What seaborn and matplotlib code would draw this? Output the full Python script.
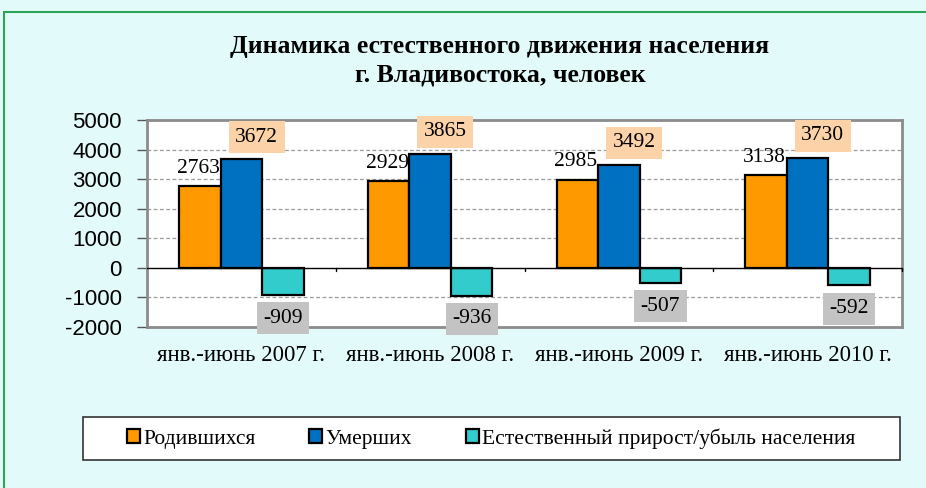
import matplotlib
matplotlib.use("Agg")
import matplotlib.pyplot as plt
import seaborn as sns
import pandas as pd
from matplotlib.patches import Rectangle

categories = ["янв.-июнь 2007 г.", "янв.-июнь 2008 г.", "янв.-июнь 2009 г.", "янв.-июнь 2010 г."]
series_names = ["Родившихся", "Умерших", "Естественный прирост/убыль населения"]
births = [2763, 2929, 2985, 3138]
deaths = [3672, 3865, 3492, 3730]
natural = [-909, -936, -507, -592]
yticks = [-2000, -1000, 0, 1000, 2000, 3000, 4000, 5000]
title = "Динамика естественного движения населения\nг. Владивостока, человек"

colors = ["#FF9900", "#0070C0", "#33CCCC"]

rows = []
for i, c in enumerate(categories):
    rows.append((c, series_names[0], births[i]))
    rows.append((c, series_names[1], deaths[i]))
    rows.append((c, series_names[2], natural[i]))
df = pd.DataFrame(rows, columns=["period", "series", "value"])

sns.set_style("white")
plt.rcParams.update({"text.color": "black", "xtick.color": "black", "ytick.color": "black",
                     "axes.labelcolor": "black"})
serif = ["Liberation Serif", "DejaVu Serif"]
sans = ["Liberation Sans", "DejaVu Sans"]

fig = plt.figure(figsize=(9.26, 4.88), dpi=100)
fig.patch.set_facecolor("#E3FAFA")
fig.patches.append(Rectangle((4 / 926, -0.01), 1.0, 1 - 12 / 488 + 0.01, transform=fig.transFigure,
                             fill=False, edgecolor="#2EA35A", linewidth=1.5))
# legend frame box
fig.patches.append(Rectangle((83 / 926, 1 - 460 / 488), (900 - 83) / 926, 43 / 488, transform=fig.transFigure,
                             facecolor="white", edgecolor="#333333", linewidth=1.2, zorder=1))

ax = fig.add_axes([147 / 926, 1 - 327 / 488, (902 - 147) / 926, (327 - 120) / 488])
sns.barplot(data=df, x="period", y="value", hue="series", palette=colors, order=categories,
            hue_order=series_names, width=0.66, edgecolor="black", linewidth=1.6, ax=ax,
            legend=True, saturation=1)

ax.set_ylim(-2000, 5000)
ax.set_xlim(-0.5, 3.5)
ax.set_yticks(yticks)
ax.set_yticklabels([str(v) for v in yticks], family=sans, fontsize=16)
ax.set_xticks(range(len(categories)))
ax.set_xticklabels(categories, family=serif, fontsize=16.5)
ax.tick_params(axis="x", length=0, pad=13)
ax.tick_params(axis="y", length=7, width=1, color="#555555", left=True, pad=11)
ax.set_xlabel("")
ax.set_ylabel("")
for y in yticks:
    if y != 0:
        ax.axhline(y, color="#9A9A9A", linestyle=(0, (3, 2)), linewidth=0.9, zorder=0)
ax.axhline(0, color="black", linewidth=1.0, zorder=3)
for xb in [0.5, 1.5, 2.5, 3.5]:
    ax.plot([xb, xb], [0, -120], color="black", linewidth=1, zorder=3, clip_on=False)
for sp in ax.spines.values():
    sp.set_color("#8C8C8C")
    sp.set_linewidth(2)
ax.set_facecolor("white")

bw = 0.22
for i in range(len(categories)):
    ax.annotate(str(births[i]), (i - bw, births[i]), xytext=(-1, 6), textcoords="offset points",
                ha="center", va="bottom", family=serif, fontsize=15.5, zorder=5)
    ax.annotate(str(deaths[i]), (i, deaths[i]), xytext=(11, 9), textcoords="offset points",
                ha="center", va="bottom", family=serif, fontsize=15.5, zorder=5,
                bbox=dict(boxstyle="square,pad=0.3", facecolor="#FCD2A8", edgecolor="none"))
    ax.annotate(str(natural[i]), (i + bw, natural[i]), xytext=(0, -10), textcoords="offset points",
                ha="center", va="top", family=serif, fontsize=15.5, zorder=5, annotation_clip=False,
                bbox=dict(boxstyle="square,pad=0.3", facecolor="#C3C3C3", edgecolor="none"))

handles, labels = ax.get_legend_handles_labels()
ax.get_legend().remove()
leg = fig.legend(handles, labels, loc="center", bbox_to_anchor=(491 / 926, 1 - 438.5 / 488),
                 ncol=3, frameon=False, prop={"family": serif, "size": 15.5},
                 handlelength=0.6, handleheight=0.6, handletextpad=0.15, columnspacing=2.5, borderpad=0.3,
                 borderaxespad=0)
leg.set_zorder(3)

fig.text(500 / 926, 1 - 61 / 488, title, ha="center", va="center", family=serif, fontweight="bold",
         fontsize=18.5, linespacing=1.3)

fig.savefig("out.png", dpi=100, facecolor=fig.get_facecolor())
